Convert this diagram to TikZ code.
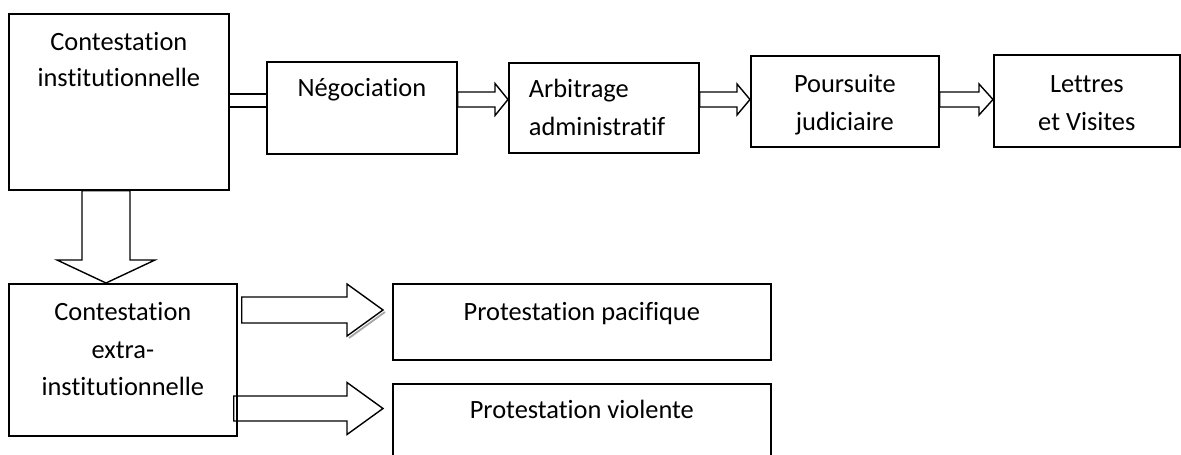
\documentclass[tikz,border=0pt]{standalone}
\usepackage{fontspec}
\setmainfont{Carlito}[Ligatures=NoCommon]
\usetikzlibrary{calc}
\usetikzlibrary{positioning}
\tikzset{
	box/.style={draw, line width=1.7pt, inner sep=0pt, align=center, anchor=north west,
		font=\fontsize{26.4}{37.5}\selectfont},
	fatarrow/.style={draw, line width=1.4pt, line join=miter},
	arrowshadow/.style={draw=gray!70, line width=1.8pt}
}
% block arrow to the right: from, to, y, shaft half width, head half width, head length
\newcommand{\fatright}[6]{%
	\draw[fatarrow] let \p1=(#1), \p2=(#2), \p3=(0,#3) in
		(\x1,\y3+#4) -- (\x2-#6,\y3+#4) -- (\x2-#6,\y3+#5) -- (\x2,\y3)
		-- (\x2-#6,\y3-#5) -- (\x2-#6,\y3-#4) -- (\x1,\y3-#4) -- cycle;
}
% block arrow downwards: from, to, x, shaft half width, head half width, head length
\newcommand{\fatdown}[6]{%
	\draw[fatarrow] let \p1=(#1), \p2=(#2), \p3=(#3,0) in
		(\x3-#4,\y1) -- (\x3-#4,\y2+#6) -- (\x3-#5,\y2+#6) -- (\x3,\y2)
		-- (\x3+#5,\y2+#6) -- (\x3+#4,\y2+#6) -- (\x3+#4,\y1) -- cycle;
}

\begin{document}
\begin{tikzpicture}[x=1pt, y=-1pt]
\useasboundingbox (0,0) rectangle (1181,455);

\node[box, minimum width=220pt, text height=73pt, text depth=103pt,
	font=\fontsize{26.4}{36}\selectfont] (inst) at (8,13)
	{Contestation\\institutionnelle};

\node[box, minimum width=190pt, text height=35pt, text depth=57pt] (neg) at (266,61)
	{Négociation};

\node[box, text width=150pt, inner xsep=20pt, align=left, text height=35pt, text depth=55pt,
	font=\fontsize{26.4}{38}\selectfont] (arb) at (508,62)
	{Arbitrage\\administratif};

\node[box, minimum width=188pt, text height=75pt, text depth=16pt,
	font=\fontsize{26.4}{38}\selectfont] (pours) at (750,55)
	{Poursuite\\judiciaire};

\node[box, minimum width=186pt, text height=76pt, text depth=16pt,
	font=\fontsize{26.4}{38}\selectfont] (lettres) at (993,54)
	{Lettres\\et Visites};

\node[box, minimum width=228pt, text height=112pt, text depth=40pt] (ext) at (8,283)
	{Contestation\\extra-\\institutionnelle};

\node[box, minimum width=378pt, text height=37pt, text depth=39pt] (pac) at (392,283)
	{Protestation pacifique};

\node[box, minimum width=378pt, text height=35pt, text depth=57pt] (vio) at (392,383)
	{Protestation violente};

\draw[fatarrow] let \p1=(inst.east), \p2=(neg.west), \p3=(0,100.5) in
	(\x1,\y3+6.5) -- (\x2,\y3+6.5) (\x1,\y3-6.5) -- (\x2,\y3-6.5);
\fatright{neg.east}{arb.west}{99.5}{7.5}{16}{13}
\fatright{arb.east}{pours.west}{99.5}{7.5}{15.5}{13}
\fatright{pours.east}{lettres.west}{99.5}{7.5}{15.5}{14}

\fatdown{inst.south}{ext.north}{106}{24}{49}{23}

\draw[arrowshadow] let \p2=([xshift=-9pt]pac.west), \p3=(0,310) in
	(\x2+2,\y3-2) -- (\x2-34,\y3-28);
\fatright{[xshift=4pt]ext.east}{[xshift=-9pt]pac.west}{310}{13}{26}{36}
\fatright{[xshift=-4pt]ext.east}{[xshift=-9pt]vio.west}{408.5}{12.5}{26}{36}

\end{tikzpicture}
\end{document}
